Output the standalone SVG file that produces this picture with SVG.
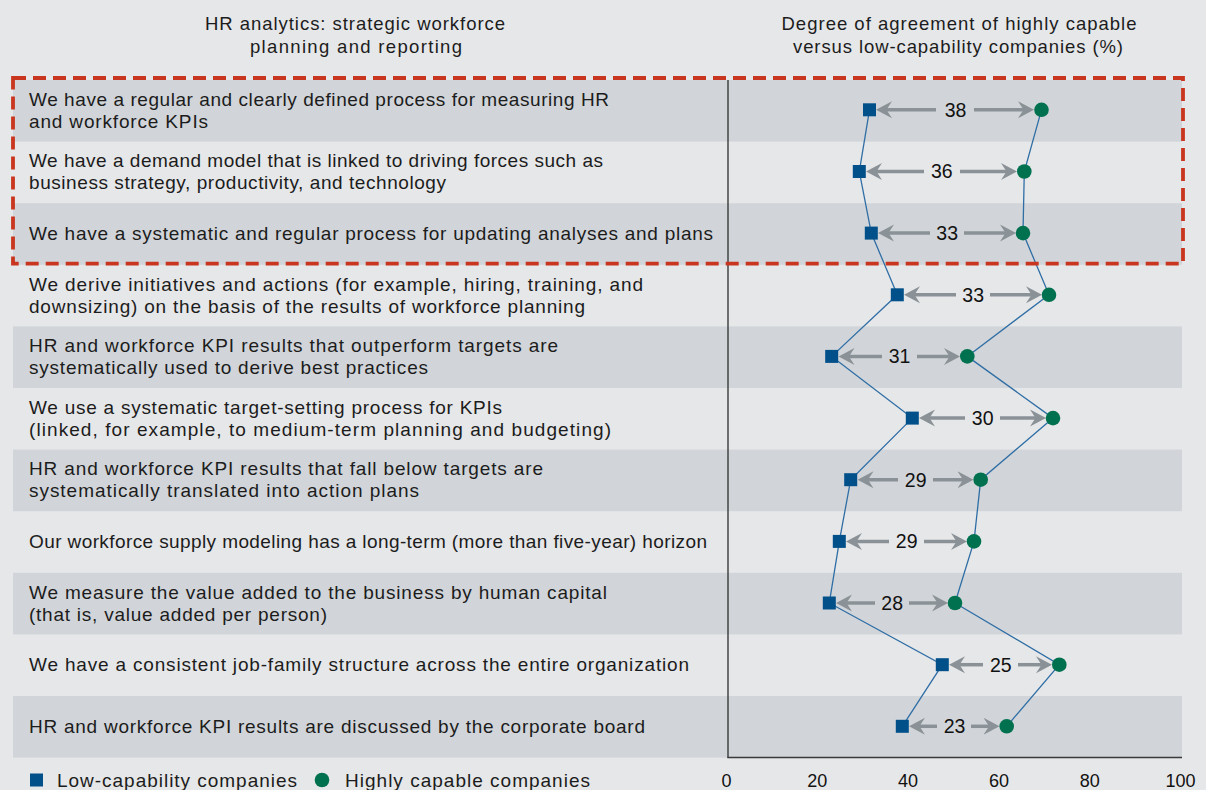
<svg xmlns="http://www.w3.org/2000/svg" width="1206" height="790" viewBox="0 0 1206 790">
<style>
.t{font-family:"Liberation Sans",Arial,sans-serif;font-size:19px;fill:#1c1c1c}
.h{font-family:"Liberation Sans",Arial,sans-serif;font-size:18.5px;fill:#1c1c1c;text-anchor:middle}
.n{font-family:"Liberation Sans",Arial,sans-serif;font-size:19.5px;fill:#111;text-anchor:middle}
.ax{font-family:"Liberation Sans",Arial,sans-serif;font-size:18px;fill:#111;text-anchor:middle}
.dk{fill:#d1d5d9}
.sq{fill:#01508a}
.ci{fill:#00714f}
.ar{stroke:#8a9297;stroke-width:3.5;fill:none;marker-end:url(#ah)}
.pl{stroke:#2f6ea5;stroke-width:1.3;fill:none}
</style>
<defs>
<marker id="ah" viewBox="0 0 16 18" refX="8" refY="9" markerWidth="16" markerHeight="18" markerUnits="userSpaceOnUse" orient="auto">
<path d="M16,9 L0,0.5 L5.5,9 L0,17.5 Z" fill="#8a9297"/>
</marker>
</defs>
<rect x="0" y="0" width="1206" height="790" fill="#e6e7e9"/>
<g id="headers">
<text class="h" x="355" y="30" textLength="300" lengthAdjust="spacing">HR analytics: strategic workforce</text>
<text class="h" x="356" y="53" textLength="212" lengthAdjust="spacing">planning and reporting</text>
<text class="h" x="959" y="30" textLength="355" lengthAdjust="spacing">Degree of agreement of highly capable</text>
<text class="h" x="958" y="53" textLength="330" lengthAdjust="spacing">versus low-capability companies (%)</text>
</g>
<g id="bands">
<rect class="dk" x="13" y="80" width="1169" height="61.6"/>
<rect class="dk" x="13" y="203.2" width="1169" height="61.6"/>
<rect class="dk" x="13" y="326.4" width="1169" height="61.6"/>
<rect class="dk" x="13" y="449.6" width="1169" height="61.6"/>
<rect class="dk" x="13" y="572.8" width="1169" height="61.6"/>
<rect class="dk" x="13" y="696" width="1169" height="61.6"/>
</g>
<g id="axis" stroke="#3a3a3a" stroke-width="1.4">
<line x1="728" y1="80" x2="728" y2="757.5"/>
<line x1="727.3" y1="757.5" x2="1182" y2="757.5"/>
</g>
<g id="axis-labels">
<text class="ax" x="726.5" y="787">0</text>
<text class="ax" x="817.3" y="787">20</text>
<text class="ax" x="908.1" y="787">40</text>
<text class="ax" x="998.9" y="787">60</text>
<text class="ax" x="1089.7" y="787">80</text>
<text class="ax" x="1180.5" y="787">100</text>
</g>
<g id="row-texts">
<g id="row1"><text class="t" x="29" y="105.8" textLength="580" lengthAdjust="spacing">We have a regular and clearly defined process for measuring HR</text><text class="t" x="29" y="127.8" textLength="179" lengthAdjust="spacing">and workforce KPIs</text></g>
<g id="row2"><text class="t" x="29" y="167.4" textLength="574" lengthAdjust="spacing">We have a demand model that is linked to driving forces such as</text><text class="t" x="29" y="189.4" textLength="417" lengthAdjust="spacing">business strategy, productivity, and technology</text></g>
<g id="row3"><text class="t" x="29" y="240" textLength="684" lengthAdjust="spacing">We have a systematic and regular process for updating analyses and plans</text></g>
<g id="row4"><text class="t" x="29" y="290.6" textLength="614" lengthAdjust="spacing">We derive initiatives and actions (for example, hiring, training, and</text><text class="t" x="29" y="312.6" textLength="556" lengthAdjust="spacing">downsizing) on the basis of the results of workforce planning</text></g>
<g id="row5"><text class="t" x="29" y="352.2" textLength="529" lengthAdjust="spacing">HR and workforce KPI results that outperform targets are</text><text class="t" x="29" y="374.2" textLength="399" lengthAdjust="spacing">systematically used to derive best practices</text></g>
<g id="row6"><text class="t" x="29" y="413.8" textLength="473" lengthAdjust="spacing">We use a systematic target-setting process for KPIs</text><text class="t" x="29" y="435.8" textLength="582" lengthAdjust="spacing">(linked, for example, to medium-term planning and budgeting)</text></g>
<g id="row7"><text class="t" x="29" y="475.4" textLength="514" lengthAdjust="spacing">HR and workforce KPI results that fall below targets are</text><text class="t" x="29" y="497.4" textLength="390" lengthAdjust="spacing">systematically translated into action plans</text></g>
<g id="row8"><text class="t" x="29" y="548" textLength="678" lengthAdjust="spacing">Our workforce supply modeling has a long-term (more than five-year) horizon</text></g>
<g id="row9"><text class="t" x="29" y="598.6" textLength="578" lengthAdjust="spacing">We measure the value added to the business by human capital</text><text class="t" x="29" y="620.6" textLength="298" lengthAdjust="spacing">(that is, value added per person)</text></g>
<g id="row10"><text class="t" x="29" y="671.2" textLength="660" lengthAdjust="spacing">We have a consistent job-family structure across the entire organization</text></g>
<g id="row11"><text class="t" x="29" y="732.8" textLength="616" lengthAdjust="spacing">HR and workforce KPI results are discussed by the corporate board</text></g>
</g>
<g id="connectors">
<polyline class="pl" points="869.5,109.8 859.3,171.5 871.3,233.1 897.3,294.8 831.7,356.4 912.3,418.1 850.7,479.7 839.3,541.4 829.3,603 942.3,664.7 902.3,726.3"/>
<polyline class="pl" points="1041.5,109.8 1024.3,171.5 1023,233.1 1049,294.8 967.3,356.4 1053,418.1 980.7,479.7 974,541.4 955,603 1059.3,664.7 1006.7,726.3"/>
<line class="ar" x1="936" y1="109.8" x2="884" y2="109.8"/><line class="ar" x1="974" y1="109.8" x2="1026" y2="109.8"/>
<line class="ar" x1="924" y1="171.5" x2="874" y2="171.5"/><line class="ar" x1="960" y1="171.5" x2="1009" y2="171.5"/>
<line class="ar" x1="930" y1="233.1" x2="886" y2="233.1"/><line class="ar" x1="964" y1="233.1" x2="1008" y2="233.1"/>
<line class="ar" x1="956" y1="294.8" x2="912" y2="294.8"/><line class="ar" x1="990" y1="294.8" x2="1034" y2="294.8"/>
<line class="ar" x1="882" y1="356.4" x2="846.5" y2="356.4"/><line class="ar" x1="917" y1="356.4" x2="952" y2="356.4"/>
<line class="ar" x1="965" y1="418.1" x2="927" y2="418.1"/><line class="ar" x1="1000" y1="418.1" x2="1038" y2="418.1"/>
<line class="ar" x1="898" y1="479.7" x2="865.5" y2="479.7"/><line class="ar" x1="933" y1="479.7" x2="965.5" y2="479.7"/>
<line class="ar" x1="889" y1="541.4" x2="854" y2="541.4"/><line class="ar" x1="924" y1="541.4" x2="959" y2="541.4"/>
<line class="ar" x1="875" y1="603" x2="844" y2="603"/><line class="ar" x1="909" y1="603" x2="940" y2="603"/>
<line class="ar" x1="983" y1="664.7" x2="957" y2="664.7"/><line class="ar" x1="1018" y1="664.7" x2="1044" y2="664.7"/>
<line class="ar" x1="937" y1="726.3" x2="917" y2="726.3"/><line class="ar" x1="971" y1="726.3" x2="991.5" y2="726.3"/>
</g>
<g id="markers">
<g id="m1"><rect class="sq" x="863" y="103.3" width="13" height="13"/><circle class="ci" cx="1041.5" cy="109.8" r="7.3"/><text class="n" x="955.5" y="116.7">38</text></g>
<g id="m2"><rect class="sq" x="852.8" y="165" width="13" height="13"/><circle class="ci" cx="1024.3" cy="171.5" r="7.3"/><text class="n" x="941.8" y="178.4">36</text></g>
<g id="m3"><rect class="sq" x="864.8" y="226.6" width="13" height="13"/><circle class="ci" cx="1023" cy="233.1" r="7.3"/><text class="n" x="947.2" y="240">33</text></g>
<g id="m4"><rect class="sq" x="890.8" y="288.3" width="13" height="13"/><circle class="ci" cx="1049" cy="294.8" r="7.3"/><text class="n" x="973.2" y="301.7">33</text></g>
<g id="m5"><rect class="sq" x="825.2" y="349.9" width="13" height="13"/><circle class="ci" cx="967.3" cy="356.4" r="7.3"/><text class="n" x="899.5" y="363.3">31</text></g>
<g id="m6"><rect class="sq" x="905.8" y="411.6" width="13" height="13"/><circle class="ci" cx="1053" cy="418.1" r="7.3"/><text class="n" x="982.7" y="425">30</text></g>
<g id="m7"><rect class="sq" x="844.2" y="473.2" width="13" height="13"/><circle class="ci" cx="980.7" cy="479.7" r="7.3"/><text class="n" x="915.7" y="486.6">29</text></g>
<g id="m8"><rect class="sq" x="832.8" y="534.9" width="13" height="13"/><circle class="ci" cx="974" cy="541.4" r="7.3"/><text class="n" x="906.7" y="548.3">29</text></g>
<g id="m9"><rect class="sq" x="822.8" y="596.5" width="13" height="13"/><circle class="ci" cx="955" cy="603" r="7.3"/><text class="n" x="892.2" y="609.9">28</text></g>
<g id="m10"><rect class="sq" x="935.8" y="658.2" width="13" height="13"/><circle class="ci" cx="1059.3" cy="664.7" r="7.3"/><text class="n" x="1000.8" y="671.6">25</text></g>
<g id="m11"><rect class="sq" x="895.8" y="719.8" width="13" height="13"/><circle class="ci" cx="1006.7" cy="726.3" r="7.3"/><text class="n" x="954.5" y="733.2">23</text></g>
</g>
<rect id="highlight" x="13" y="78" width="1170" height="185.7" fill="none" stroke="#c9361f" stroke-width="3.8" stroke-dasharray="13 7"/>
<g id="legend">
<rect class="sq" x="30" y="773.5" width="13" height="13"/>
<text class="t" x="57" y="787" textLength="240" lengthAdjust="spacing">Low-capability companies</text>
<circle class="ci" cx="322" cy="780" r="7.3"/>
<text class="t" x="345" y="787" textLength="245" lengthAdjust="spacing">Highly capable companies</text>
</g>
</svg>
